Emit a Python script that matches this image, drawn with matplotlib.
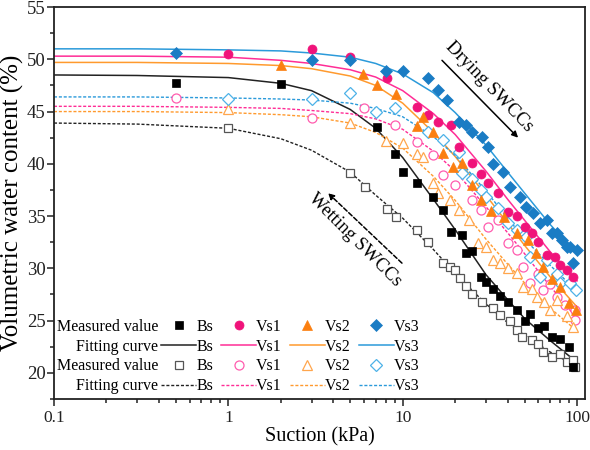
import matplotlib
matplotlib.use("Agg")
import matplotlib.pyplot as plt
from matplotlib.ticker import MultipleLocator, FixedLocator, NullFormatter, FixedFormatter

plt.rcParams['font.family'] = 'serif'
plt.rcParams['font.serif'] = ['Liberation Serif', 'DejaVu Serif']

# ---- measured points (drying = filled, wetting = open) ----
bs_dry_x = [0.5, 2, 7.1, 9, 10, 12, 15, 17, 19, 22, 23, 25, 28, 30, 33, 36, 40, 45, 50, 54, 60, 65, 72, 80, 90, 95]
bs_dry_y = [47.7, 47.6, 43.5, 40.9, 39.2, 38.2, 36.8, 35.6, 33.5, 33.2, 31.5, 31.7, 29.2, 28.7, 28.0, 27.4, 26.8, 26.0, 25.0, 25.6, 24.3, 24.5, 23.4, 23.2, 22.5, 20.6]

vs1_dry_x = [1, 3, 5, 8.1, 12, 14, 16, 19, 21, 25, 28, 31, 35, 40, 45, 50, 55, 60, 67, 75, 80, 87, 95]
vs1_dry_y = [50.5, 51.0, 50.2, 48.2, 45.4, 44.7, 44.0, 43.7, 41.6, 40.1, 39.0, 38.2, 37.2, 35.4, 35.0, 34.0, 33.4, 32.5, 31.3, 31.1, 30.3, 29.8, 29.2]

vs2_dry_x = [2, 5.9, 7.1, 9.1, 12, 13, 15, 17, 19.5, 22, 25, 28, 32, 38, 45, 52, 58, 64, 72, 80, 90, 98]
vs2_dry_y = [49.5, 48.6, 47.5, 46.7, 43.6, 44.5, 43.0, 41.0, 39.7, 40.1, 38.0, 36.5, 35.5, 34.9, 33.4, 32.7, 31.5, 30.1, 29.0, 28.2, 26.7, 26.0]

vs3_dry_x = [0.5, 3, 5, 8, 10, 14, 16, 18, 21, 23, 25, 28.5, 31, 33, 37.5, 41, 47, 51, 56, 61, 67, 72, 77, 82, 87, 91, 95, 100]
vs3_dry_y = [50.6, 49.9, 49.9, 48.9, 48.9, 48.2, 47.1, 46.1, 44.0, 43.7, 43.0, 42.6, 41.6, 40.0, 39.2, 37.8, 36.8, 35.9, 35.3, 34.3, 34.6, 33.4, 33.4, 32.7, 32.0, 32.0, 30.5, 31.8]

bs_wet_x = [1, 5, 6.1, 8.1, 9.1, 12.1, 14, 17, 18.7, 20, 21.3, 23, 25, 28.5, 33, 36, 41, 45, 48, 55, 60, 64, 72, 80, 87, 95, 97]
bs_wet_y = [43.4, 39.1, 37.8, 35.7, 34.9, 33.7, 32.5, 30.5, 30.1, 29.8, 29.1, 28.3, 27.5, 26.8, 26.2, 25.5, 25.0, 24.1, 23.4, 23.1, 22.8, 22.0, 21.5, 21.8, 21.0, 21.2, 20.6]

vs1_wet_x = [0.5, 3, 6, 9, 12, 15, 17, 20, 25, 28, 31, 35, 40, 45, 49, 54, 60, 64, 70, 77, 85, 97, 97]
vs1_wet_y = [46.3, 44.4, 45.3, 43.7, 42.1, 40.8, 38.9, 38.0, 36.5, 35.6, 34.0, 34.6, 32.4, 31.8, 30.1, 28.6, 29.5, 27.9, 28.5, 27.3, 26.5, 26.0, 25.1]

vs2_wet_x = [1, 5, 8, 10, 12, 13, 15, 16, 18.7, 21, 24, 27, 30, 33, 36, 40, 45, 49, 55, 59, 65, 70, 77, 87, 95]
vs2_wet_y = [45.2, 43.9, 42.2, 42.0, 40.9, 40.7, 38.2, 37.2, 36.5, 35.6, 34.6, 32.4, 32.0, 30.8, 30.5, 30.0, 29.6, 28.2, 28.0, 27.3, 26.8, 26.0, 27.0, 25.4, 24.4]

vs3_wet_x = [1, 3, 5, 7, 9, 14, 17, 21, 22, 25, 28, 30, 35, 40, 45, 51, 54, 61, 67, 77, 80, 91, 98]
vs3_wet_y = [46.2, 46.2, 46.8, 45.0, 45.3, 43.0, 42.3, 41.1, 39.1, 38.5, 37.5, 36.8, 35.8, 34.3, 33.7, 33.0, 31.1, 29.2, 30.8, 29.5, 28.6, 28.6, 27.9]

# ---- fitting curves ----
suction_fit = [0.1, 0.3, 1, 2, 3, 5, 7, 10, 15, 20, 30, 40, 50, 70, 100]
bs_dry_fit = [48.5, 48.45, 48.25, 47.7, 47.0, 45.2, 43.4, 40.6, 36.6, 33.7, 29.4, 27.0, 25.2, 23.1, 21.0]
vs1_dry_fit = [50.3, 50.3, 50.2, 49.9, 49.6, 49.0, 48.3, 47.0, 44.8, 42.8, 39.3, 36.6, 34.6, 31.6, 28.8]
vs2_dry_fit = [49.7, 49.7, 49.6, 49.4, 49.1, 48.4, 47.5, 45.8, 43.0, 40.7, 37.0, 34.3, 32.2, 29.2, 26.3]
vs3_dry_fit = [51.0, 51.0, 50.9, 50.8, 50.6, 50.2, 49.6, 48.6, 46.8, 44.9, 41.8, 39.2, 37.2, 34.2, 31.4]
bs_wet_fit = [43.9, 43.8, 43.4, 42.4, 41.3, 39.2, 37.0, 34.8, 31.8, 29.5, 26.6, 24.8, 23.6, 22.0, 20.6]
vs1_wet_fit = [45.5, 45.5, 45.4, 45.3, 45.1, 44.8, 44.3, 43.3, 41.2, 39.3, 35.9, 33.4, 31.4, 28.3, 25.2]
vs2_wet_fit = [45.0, 45.0, 44.9, 44.7, 44.5, 43.9, 43.0, 41.5, 38.8, 36.5, 32.8, 30.4, 28.6, 26.2, 24.0]
vs3_wet_fit = [46.4, 46.4, 46.3, 46.2, 46.1, 45.8, 45.3, 44.5, 42.6, 40.8, 37.4, 34.8, 32.8, 30.3, 27.8]

names = ['Bs', 'Vs1', 'Vs2', 'Vs3']
line_colors = ['#222222', '#ff2d96', '#ff9a2e', '#2b9ada']
fill_colors = ['#000000', '#f0137a', '#fb7f10', '#1a7cc4']
open_colors = ['#555555', '#ff5cae', '#ffa64d', '#4cb2e8']
markers = ['s', 'o', '^', 'D']
msizes = [6, 6.5, 7, 6.3]

dry_pts = [(bs_dry_x, bs_dry_y), (vs1_dry_x, vs1_dry_y), (vs2_dry_x, vs2_dry_y), (vs3_dry_x, vs3_dry_y)]
wet_pts = [(bs_wet_x, bs_wet_y), (vs1_wet_x, vs1_wet_y), (vs2_wet_x, vs2_wet_y), (vs3_wet_x, vs3_wet_y)]
dry_fits = [bs_dry_fit, vs1_dry_fit, vs2_dry_fit, vs3_dry_fit]
wet_fits = [bs_wet_fit, vs1_wet_fit, vs2_wet_fit, vs3_wet_fit]

fig = plt.figure(figsize=(5.9, 4.5), dpi=100)
ax = fig.add_axes([0.0915, 0.1133, 0.9, 0.8711])

handles = []
dash = (0, (2.2, 1.3))
for i, name in enumerate(names):
    # wetting (open markers + dashed curves) drawn first
    wx, wy = wet_pts[i]
    h_wp, = ax.plot(wx, wy, ls='none', marker=markers[i], ms=msizes[i],
                    mfc='white', mec=open_colors[i], mew=0.9, label=name, zorder=3)
    h_wf, = ax.plot(suction_fit, wet_fits[i], ls=dash, lw=1.0, color=line_colors[i],
                    label=name, zorder=2)
    dx, dy = dry_pts[i]
    h_dp, = ax.plot(dx, dy, ls='none', marker=markers[i], ms=msizes[i],
                    mfc=fill_colors[i], mec=fill_colors[i], mew=0.5, label=name, zorder=4)
    h_df, = ax.plot(suction_fit, dry_fits[i], ls='-', lw=1.1, color=line_colors[i],
                    label=name, zorder=2)
    handles += [h_dp, h_df, h_wp, h_wf]

ax.set_xscale('log')
ax.set_xlim(0.1, 111)
ax.set_ylim(17.5, 55)
ax.yaxis.set_major_locator(MultipleLocator(5))
ax.yaxis.set_minor_locator(MultipleLocator(2.5))
ax.xaxis.set_major_locator(FixedLocator([0.1, 1, 10, 100]))
ax.xaxis.set_major_formatter(FixedFormatter(['0.1', '1', '10', '100']))
ax.xaxis.set_minor_formatter(NullFormatter())

for s in ax.spines.values():
    s.set_linewidth(1.3)
    s.set_color('#222222')
ax.tick_params(which='both', direction='out', top=False, right=False, width=1.1, colors='#222222')
ax.tick_params(which='major', length=5)
ax.tick_params(which='minor', length=3)
ax.tick_params(axis='y', labelsize=13.5, pad=1)
ax.tick_params(axis='x', labelsize=12.5, pad=3)

ax.set_xlabel('Suction (kPa)', fontsize=14.5, labelpad=1)
ax.set_ylabel('Volumetric water content (%)', fontsize=18, labelpad=2)

leg = ax.legend(handles, [h.get_label() for h in handles], ncol=4, loc='lower left',
                bbox_to_anchor=(0.2015, 0.012), frameon=False, fontsize=11.5,
                handlelength=2.2, handletextpad=0.0, columnspacing=0.5,
                labelspacing=0.24, borderpad=0.0, borderaxespad=0.0, numpoints=1)

# row captions to the left of the legend columns
fig.canvas.draw()
row_labels = ['Measured value', 'Fitting curve', 'Measured value', 'Fitting curve']
leg_x0 = leg.get_window_extent().x0
W, H = fig.canvas.get_width_height()
for t, lab in zip(leg.get_texts()[:4], row_labels):
    bb = t.get_window_extent()
    fig.text((leg_x0 - 3) / W, (bb.y0 + bb.y1) / 2 / H, lab, ha='right', va='center',
             fontsize=11.5)

# direction annotations
ax.annotate('', xy=(45.9, 42.5), xytext=(16.8, 49.9),
            arrowprops=dict(arrowstyle='-|>', lw=1.1, color='black', mutation_scale=9,
                            shrinkA=0, shrinkB=0))
ax.text(31.5, 47.4, 'Drying SWCCs', rotation=-46, fontsize=13.5, ha='center', va='center',
        rotation_mode='anchor')
ax.annotate('', xy=(3.73, 37.2), xytext=(9.9, 30.5),
            arrowprops=dict(arrowstyle='-|>', lw=1.1, color='black', mutation_scale=9,
                            linestyle=(0, (3, 1.5)), shrinkA=0, shrinkB=0))
ax.text(5.3, 32.7, 'Wetting SWCCs', rotation=-45, fontsize=13.5, ha='center', va='center',
        rotation_mode='anchor')

fig.savefig('out.png', dpi=100)
